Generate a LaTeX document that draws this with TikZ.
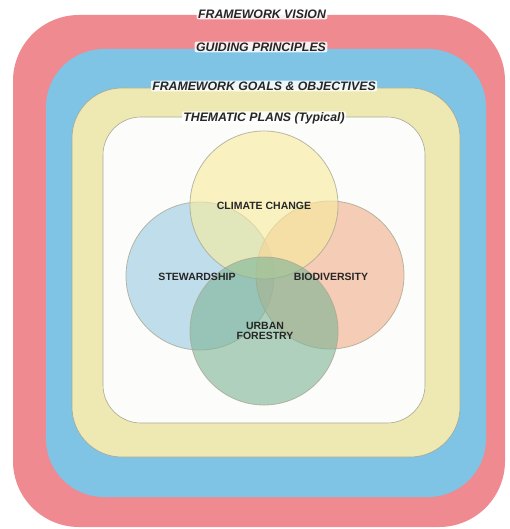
\documentclass[tikz,border=0pt]{standalone}
\usepackage{fontspec}
\setmainfont{Liberation Sans}
\definecolor{bandred}{HTML}{EF8A91}
\definecolor{bandblue}{HTML}{7FC3E5}
\definecolor{bandyellow}{HTML}{EEE9B3}
\definecolor{bandwhite}{HTML}{FCFCFA}
\definecolor{edgegrey}{HTML}{A9A895}
\definecolor{cyellow}{HTML}{F8EC9E}
\definecolor{cblue}{HTML}{9CCAE2}
\definecolor{corange}{HTML}{F2B08C}
\definecolor{cgreen}{HTML}{7FB596}
\definecolor{labeltext}{HTML}{262626}
\tikzset{
  bandlabel/.style={font=\bfseries\itshape\fontsize{12.3}{14}\selectfont, text=labeltext, inner xsep=1.5pt, inner ysep=1pt, fill=white, fill opacity=0.85, text opacity=1, rounded corners=2pt},
  venn/.style={circle, minimum size=148pt, inner sep=0pt, draw=edgegrey, line width=0.8pt, fill opacity=0.62, draw opacity=0.8},
  vennlabel/.style={font=\bfseries\fontsize{10.5}{11}\selectfont, text=labeltext, inner sep=0.5pt, align=center}
}
\begin{document}
\begin{tikzpicture}[x=1pt,y=-1pt]
\useasboundingbox (0,0) rectangle (510,529);
\fill[white] (0,0) rectangle (510,529);
% bands
\fill[bandred, rounded corners=66pt] (13,15) rectangle (505,527);
\fill[bandblue, rounded corners=58pt] (46,49) rectangle (486,497);
\filldraw[fill=bandyellow, draw=edgegrey, line width=0.6pt, rounded corners=50pt] (72,88) rectangle (460,457);
\filldraw[fill=bandwhite, draw=edgegrey, line width=0.6pt, rounded corners=38pt] (103,117) rectangle (425,423);
% circles
\node[venn, fill=cblue] (stew) at (200,276) {};
\node[venn, fill=corange] (bio) at (330,275) {};
\node[venn, fill=cyellow] (clim) at (264,205) {};
\node[venn, fill=cgreen] (urb) at (264,331) {};
% circle labels
\node[vennlabel] (lclim) at (264,206) {CLIMATE CHANGE};
\node[vennlabel] (lstew) at (197,277) {STEWARDSHIP};
\node[vennlabel] (lbio) at (331,277) {BIODIVERSITY};
\node[vennlabel] (lurb) at (265,331) {URBAN\\[-1pt]FORESTRY};
% band labels
\node[bandlabel] (lvision) at (262,14) {FRAMEWORK VISION};
\node[bandlabel] (lguide) at (261,47) {GUIDING PRINCIPLES};
\node[bandlabel] (lgoals) at (264,86) {FRAMEWORK GOALS \& OBJECTIVES};
\node[bandlabel] (lthem) at (264,118) {THEMATIC PLANS (Typical)};
\end{tikzpicture}
\end{document}
